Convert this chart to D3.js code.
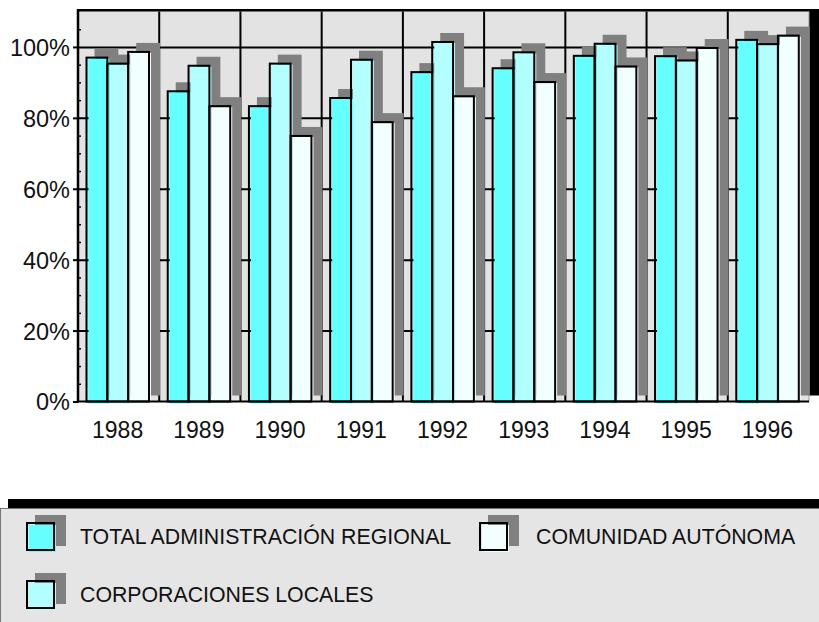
<!DOCTYPE html>
<html>
<head>
<meta charset="utf-8">
<title>Administración regional</title>
<script src="https://cdn.jsdelivr.net/npm/d3@7"></script>
<style>
    body { margin: 0; background: #fff; }
    svg text { font-family: "Liberation Sans", Arial, sans-serif; fill: #111; }
    .axis path { display: none; }
</style>
</head>
<body>
<script>
    // data (percent)
    var years = ["1988", "1989", "1990", "1991", "1992", "1993", "1994", "1995", "1996"];
    var total = [97.0, 87.5, 83.3, 85.6, 92.9, 94.0, 97.5, 97.4, 102.0];
    var corporaciones = [95.3, 94.7, 95.3, 96.4, 101.4, 98.5, 100.9, 96.2, 100.8];
    var comunidad = [98.6, 83.3, 74.9, 78.8, 86.1, 90.1, 94.5, 99.7, 103.2];
    var yTicks = [0, 20, 40, 60, 80, 100];

    var seriesNames = ["TOTAL ADMINISTRACIÓN REGIONAL", "CORPORACIONES LOCALES", "COMUNIDAD AUTÓNOMA"];
    var seriesVals = [total, corporaciones, comunidad];
    var colors = ["#66ffff", "#b3ffff", "#f2ffff"];

    var w = 819, h = 622;
    var pLeft = 78, pRight = 809, pTop = 11.5, pBottom = 401.5;

    var svg = d3.select("body").append("svg")
        .attr("width", w)
        .attr("height", h);

    var x = d3.scaleBand().domain(years).range([pLeft, pRight]);
    var x1 = d3.scaleBand().domain(d3.range(3)).range([8.5, 71]);
    var y = d3.scaleLinear().domain([0, 110]).range([pBottom, pTop]);

    // plot frame with its black shadow
    svg.append("rect")
        .attr("x", pLeft).attr("y", pTop - 2.5)
        .attr("width", w - pLeft).attr("height", pBottom - 6 - (pTop - 2.5))
        .attr("fill", "#000");
    svg.append("rect")
        .attr("x", pLeft).attr("y", pTop)
        .attr("width", pRight - pLeft).attr("height", pBottom - pTop)
        .attr("fill", "#e3e3e3");

    // grid
    svg.append("g")
        .attr("class", "axis")
        .attr("transform", "translate(" + pLeft + ",0)")
        .call(d3.axisLeft(y).tickValues(yTicks.slice(1)).tickSize(-(pRight - pLeft)).tickFormat(""))
        .selectAll("line").attr("stroke", "#000").attr("stroke-width", 2);
    svg.append("g")
        .selectAll("line")
        .data(years.slice(1).concat(["end"]))
        .enter().append("line")
        .attr("x1", function(d) { return d == "end" ? pRight : x(d); })
        .attr("x2", function(d) { return d == "end" ? pRight : x(d); })
        .attr("y1", pTop)
        .attr("y2", pBottom)
        .attr("stroke", function(d) { return d == "end" ? "#999" : "#000"; })
        .attr("stroke-width", function(d) { return d == "end" ? 1 : 2; });

    // bars: rows of [year, series index, value]
    var rows = [];
    years.forEach(function(yr, i) {
        seriesVals.forEach(function(s, k) {
            rows.push({ year: yr, k: k, v: s[i] });
        });
    });

    var bw = x1.bandwidth();
    var groups = svg.append("g");

    groups.selectAll(".shadow")
        .data(rows)
        .enter().append("rect")
        .attr("class", "shadow")
        .attr("x", function(d) { return x(d.year) + x1(d.k) + 8; })
        .attr("y", function(d) { return y(d.v) - 9; })
        .attr("width", bw + 3)
        .attr("height", function(d) { return pBottom - 6 - (y(d.v) - 9); })
        .attr("fill", "#808080");

    var bars = groups.selectAll(".bar")
        .data(rows)
        .enter().append("g")
        .attr("class", "bar");
    bars.append("rect")
        .attr("x", function(d) { return x(d.year) + x1(d.k) + 2; })
        .attr("y", function(d) { return y(d.v) + 1; })
        .attr("width", bw)
        .attr("height", function(d) { return pBottom - y(d.v) + 1; })
        .attr("fill", function(d) { return colors[d.k]; });
    bars.append("rect")
        .attr("x", function(d) { return x(d.year) + x1(d.k); })
        .attr("y", function(d) { return y(d.v); })
        .attr("width", bw)
        .attr("height", function(d) { return pBottom - y(d.v); })
        .attr("fill", "none")
        .attr("stroke", "#000")
        .attr("stroke-width", 2);

    // axes
    var minor = d3.range(5, 110, 5).filter(function(v) { return v % 20 != 0; });
    svg.append("g")
        .attr("class", "axis")
        .attr("transform", "translate(" + pLeft + ",0)")
        .call(d3.axisRight(y).tickValues(minor).tickSize(3).tickFormat(""))
        .selectAll("line").attr("stroke", "#000").attr("stroke-width", 1.5);

    var yAxis = svg.append("g")
        .attr("class", "axis")
        .attr("transform", "translate(" + pLeft + ",0)")
        .call(d3.axisLeft(y).tickValues(yTicks).tickSize(5).tickPadding(3)
            .tickFormat(function(d) { return d + "%"; }));
    yAxis.selectAll("line").attr("stroke", "#000").attr("stroke-width", 2);
    yAxis.selectAll("text").attr("font-size", "23.5px").attr("dy", "0.36em");

    svg.append("line")
        .attr("x1", pLeft).attr("x2", pLeft)
        .attr("y1", pTop - 2.5).attr("y2", pBottom + 1)
        .attr("stroke", "#000").attr("stroke-width", 2.5);
    svg.append("line")
        .attr("x1", pLeft).attr("x2", pRight)
        .attr("y1", pBottom).attr("y2", pBottom)
        .attr("stroke", "#000").attr("stroke-width", 2);

    var xAxis = svg.append("g")
        .attr("class", "axis")
        .attr("transform", "translate(0," + pBottom + ")")
        .call(d3.axisBottom(x).tickSize(0).tickPadding(20));
    xAxis.selectAll("text").attr("font-size", "23px").attr("dx", "-1");

    // legend
    svg.append("rect")
        .attr("x", 8).attr("y", 499)
        .attr("width", w).attr("height", 20)
        .attr("fill", "#000");
    svg.append("rect")
        .attr("x", 0.5).attr("y", 508.5)
        .attr("width", w + 5).attr("height", 120)
        .attr("fill", "#e5e5e5")
        .attr("stroke", "#777")
        .attr("stroke-width", 1);

    var legendPos = [
        { k: 0, x: 27, y: 523, tx: 80 },
        { k: 2, x: 480, y: 523, tx: 536 },
        { k: 1, x: 27, y: 581, tx: 80 }
    ];
    var items = svg.append("g")
        .selectAll("g")
        .data(legendPos)
        .enter().append("g")
        .attr("transform", function(d) { return "translate(" + d.x + "," + d.y + ")"; });
    items.append("rect")
        .attr("x", 8).attr("y", -8)
        .attr("width", 31).attr("height", 31)
        .attr("fill", "#808080");
    items.append("rect")
        .attr("x", 2).attr("y", 2)
        .attr("width", 27).attr("height", 27)
        .attr("fill", function(d) { return colors[d.k]; });
    items.append("rect")
        .attr("width", 27).attr("height", 27)
        .attr("fill", "none")
        .attr("stroke", "#000")
        .attr("stroke-width", 2);
    items.append("text")
        .attr("x", function(d) { return d.tx - d.x; })
        .attr("y", 20.5)
        .attr("font-size", "21.3px")
        .text(function(d) { return seriesNames[d.k]; });
</script>
</body>
</html>
